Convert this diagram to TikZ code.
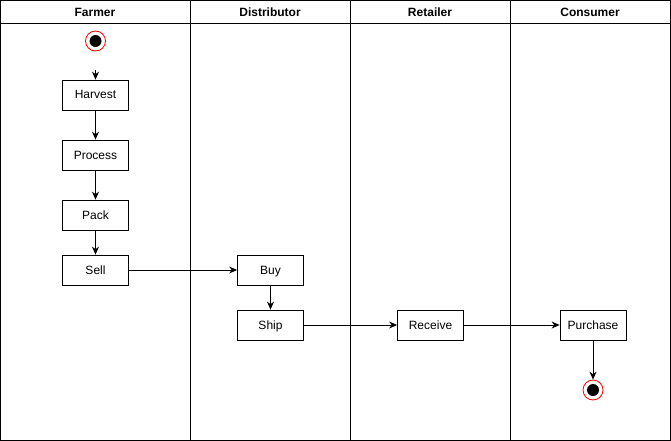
\documentclass[tikz,border=0pt]{standalone}
\usepackage{fontspec}
\setmainfont{Liberation Sans}
\usetikzlibrary{arrows.meta}
\begin{document}
\begin{tikzpicture}[x=1pt,y=-1pt,
  lane/.style={draw=black,line width=1pt},
  act/.style={draw=black,line width=0.8pt,fill=white,minimum width=66pt,minimum height=30pt,inner sep=0pt,text height=10pt,text depth=2pt,font=\fontsize{12}{14}\selectfont},
  hdr/.style={font=\bfseries\fontsize{12}{14}\selectfont,text height=10pt,text depth=2pt},
  flow/.style={line width=0.8pt,-{Stealth[length=8pt,width=7pt]}},
  startst/.style={circle,draw=red,line width=0.8pt,fill=white,minimum size=20pt,inner sep=0pt},
  dot/.style={circle,fill=black,minimum size=12pt,inner sep=0pt}]
\useasboundingbox (0,0) rectangle (671,441);
% lanes
\draw[lane] (0.5,0.5) rectangle (670.5,440.5);
\draw[lane] (0.5,23.5) -- (670.5,23.5);
\draw[lane] (190.5,0.5) -- (190.5,440.5);
\draw[lane] (350.5,0.5) -- (350.5,440.5);
\draw[lane] (510.5,0.5) -- (510.5,440.5);
\node[hdr] (hf) at (95,12.5) {Farmer};
\node[hdr] (hd) at (270,12.5) {Distributor};
\node[hdr] (hr) at (430,12.5) {Retailer};
\node[hdr] (hc) at (590,12.5) {Consumer};
% start
\node[startst] (start) at (95.5,41) {};
\node[dot] at (start) {};
\coordinate (sarr) at (95.5,70);
% activities
\node[act] (harvest) at (95.5,95) {Harvest};
\node[act] (process) at (95.5,155) {Process};
\node[act] (pack) at (95.5,215) {Pack};
\node[act] (sell) at (95.5,270) {Sell};
\node[act] (buy) at (270.5,270) {Buy};
\node[act] (ship) at (270.5,325) {Ship};
\node[act] (receive) at (430.5,325) {Receive};
\node[act] (purchase) at (593,325) {Purchase};
% end
\node[startst] (end) at (593,390) {};
\node[dot] at (end) {};
% flows
\draw[flow] (sarr) -- (harvest);
\draw[flow] (harvest) -- (process);
\draw[flow] (process) -- (pack);
\draw[flow] (pack) -- (sell);
\draw[flow] (sell) -- (buy);
\draw[flow] (buy) -- (ship);
\draw[flow] (ship) -- (receive);
\draw[flow] (receive) -- (purchase);
\draw[flow] (purchase) -- (end);
\end{tikzpicture}
\end{document}
